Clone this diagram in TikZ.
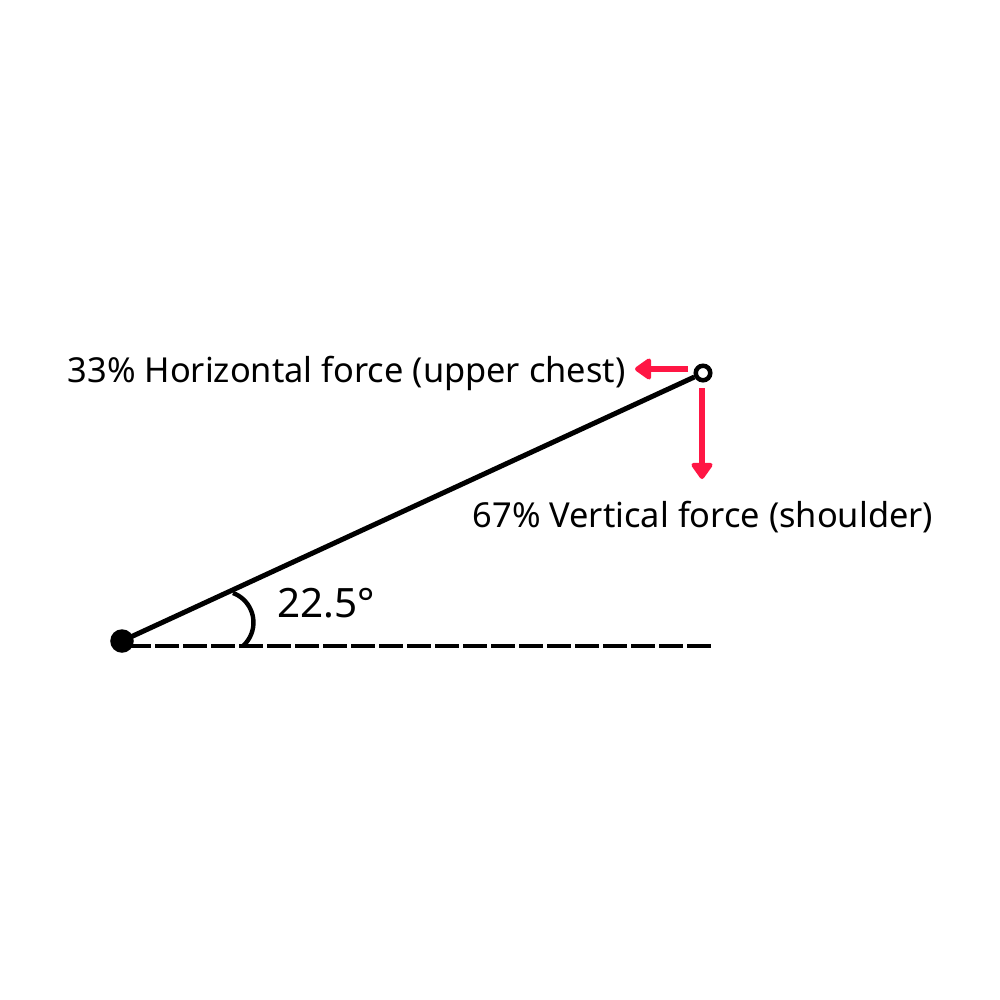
\documentclass[tikz,border=0pt]{standalone}
\usepackage{fontspec}
\setmainfont{Noto Sans}
\usetikzlibrary{arrows.meta}
\definecolor{forcered}{RGB}{255,22,68}
\tikzset{
  px/.style={x=0.01cm,y=-0.01cm},
  lbl/.style={inner sep=0pt, anchor=base west, font=\fontsize{9.78pt}{11pt}\selectfont},
  bar/.style={line width=1.42pt, black},
  force/.style={line width=1.45pt, forcered, -{Triangle[length=0.18cm,width=0.24cm,round]}},
}
\begin{document}
\begin{tikzpicture}[px]
\useasboundingbox (0,0) rectangle (1000,1000);
\node[circle, fill=black, inner sep=0pt, minimum size=0.235cm] (A) at (122,641) {};
\node[circle, draw=black, fill=white, line width=1.28pt, inner sep=0pt, minimum size=0.145cm] (B) at (703,373) {};
\coordinate (D0) at (127,646);
\coordinate (D1) at (711,646);
\coordinate (H) at (635,369);
\coordinate (V) at (702,479);
\coordinate (Ha) at (688,369);
\coordinate (Va) at (702,388);
\draw[line width=1.28pt, dash pattern=on 0.24cm off 0.04cm] (D0) -- (D1);
\draw[bar] (A.center) -- (B);
\draw[line width=1.25pt] (233,593) arc[start angle=-69.5, end angle=48.2, radius=31.5];
\draw[force] (Ha) -- (H);
\draw[force] (Va) -- (V);
\node[lbl] (t1) at (67,382) {33\% Horizontal force (upper chest)};
\node[lbl] (t2) at (472,527) {67\% Vertical force (shoulder)};
\node[lbl, font=\fontsize{11.5pt}{13pt}\selectfont] (t3) at (277,617) {22.5°};
\end{tikzpicture}
\end{document}
